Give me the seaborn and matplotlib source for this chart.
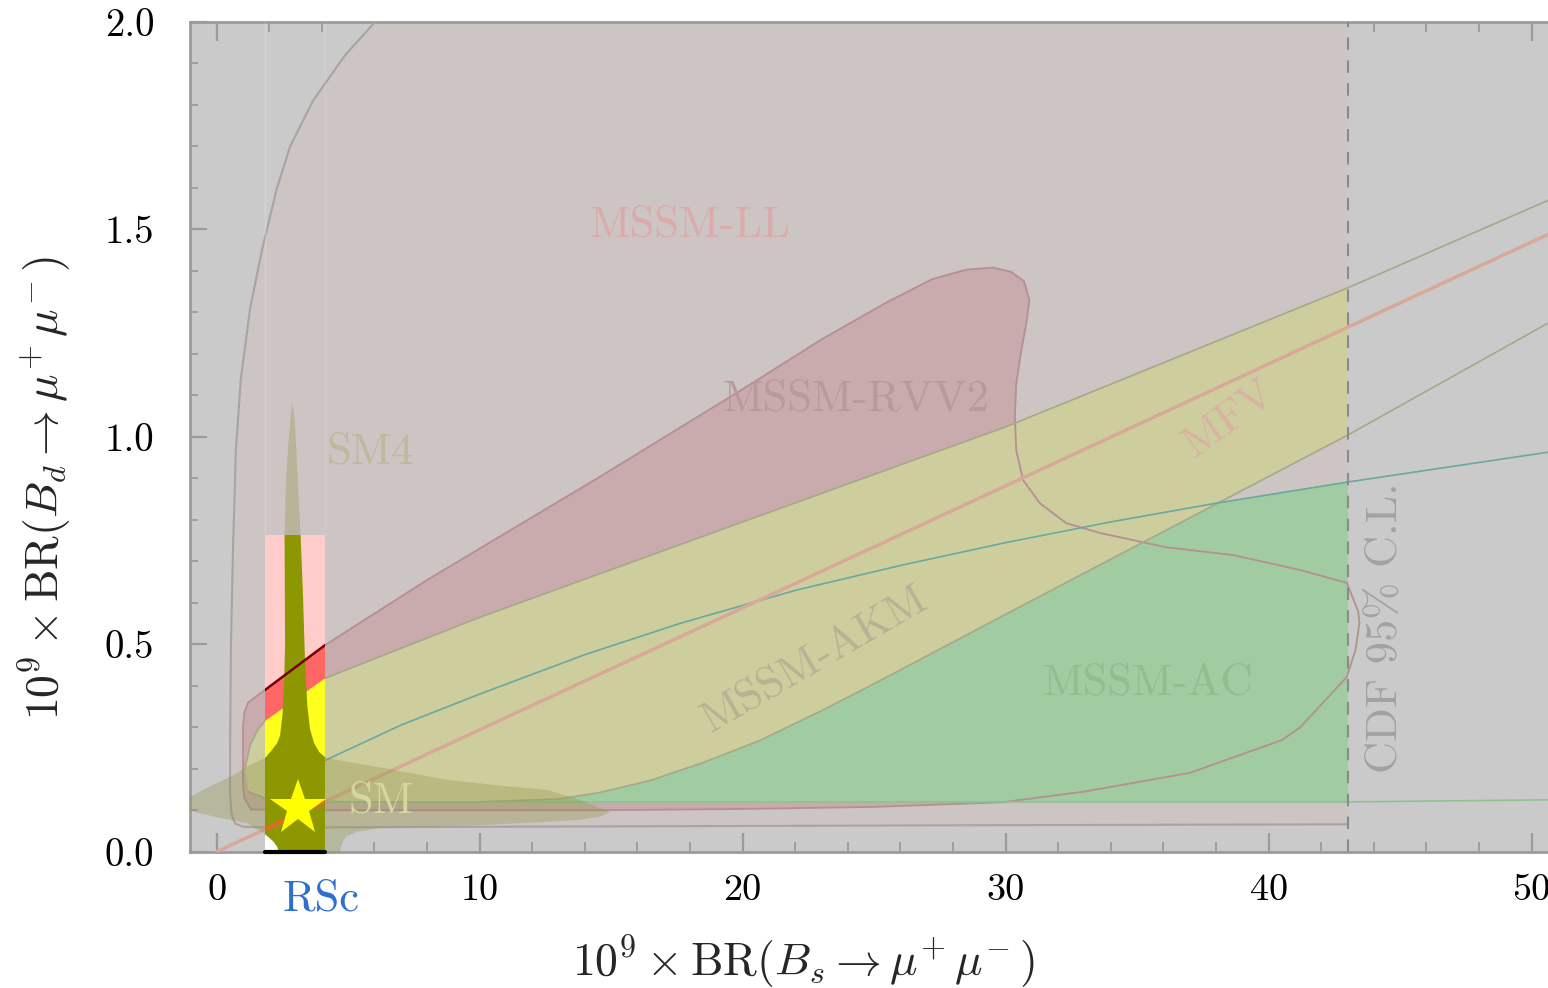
import matplotlib
matplotlib.use("Agg")
import matplotlib.pyplot as plt
from matplotlib.patches import Rectangle
from matplotlib.ticker import MultipleLocator, FixedLocator, FixedFormatter
import matplotlib.transforms as mtransforms
import seaborn as sns

# ---------------- data ----------------
x_limits = (-1.0, 50.62)
y_limits = (0.0, 2.0)
x_major_ticks = [0, 10, 20, 30, 40, 50]
x_tick_labels = ["0", "10", "20", "30", "40", "50"]
y_major_ticks = [0.0, 0.5, 1.0, 1.5, 2.0]
y_tick_labels = ["0.0", "0.5", "1.0", "1.5", "2.0"]

cdf_limit = 43.0
rsc_x0, rsc_x1 = 1.84, 4.12
rsc_top = 0.763
sm_point_x = [3.09]
sm_point_y = [0.105]

# MSSM-LL boundary (left curve + bottom edge)
ll_x = [6.02, 4.88, 3.66, 2.79, 2.29, 1.72, 1.27, 0.92, 0.73, 0.62, 0.54, 0.51, 0.51, 0.56, 0.70, 1.0, 2.0, 10.0, 20.0, 30.0, 43.0]
ll_y = [2.00, 1.92, 1.81, 1.70, 1.60, 1.45, 1.31, 1.14, 0.97, 0.73, 0.49, 0.25, 0.14, 0.09, 0.068, 0.060, 0.058, 0.060, 0.062, 0.064, 0.066]

# MSSM-RVV2 closed boundary
rvv_x = [1.05, 1.00, 1.00, 1.05, 1.20, 1.84, 4.12, 8.0, 14.6, 20.0, 23.0, 25.5, 27.2, 28.5, 29.5, 30.2, 30.7, 30.9,
         30.8, 30.6, 30.4, 30.35, 30.4, 30.66, 31.3, 32.3, 33.6, 36.1, 38.65, 41.2, 42.97, 43.4, 43.45, 43.3, 42.97,
         41.2, 40.5, 37.0, 33.0, 29.86, 25.0, 20.0, 14.6, 8.0, 3.0, 1.3, 1.05]
rvv_y = [0.13, 0.16, 0.30, 0.335, 0.36, 0.39, 0.498, 0.655, 0.905, 1.115, 1.235, 1.325, 1.38, 1.403, 1.408, 1.398, 1.375, 1.33,
         1.28, 1.21, 1.128, 1.048, 0.968, 0.896, 0.84, 0.792, 0.768, 0.734, 0.715, 0.679, 0.648, 0.58, 0.551, 0.486, 0.421,
         0.30, 0.269, 0.19, 0.145, 0.119, 0.108, 0.103, 0.100, 0.100, 0.100, 0.102, 0.13]

# MSSM-AKM band: upper and lower edges
akm_up_x = [1.07, 1.27, 1.57, 1.84, 4.12, 10.0, 20.0, 30.0, 43.0, 50.62]
akm_up_y = [0.20, 0.257, 0.295, 0.315, 0.418, 0.565, 0.795, 1.024, 1.359, 1.57]
akm_lo_x = [1.2, 2.0, 5.0, 10.0, 13.0, 14.6, 16.5, 18.5, 20.65, 23.0, 25.0, 31.04, 43.0, 50.62]
akm_lo_y = [0.145, 0.125, 0.12, 0.12, 0.127, 0.143, 0.172, 0.215, 0.268, 0.34, 0.405, 0.607, 1.004, 1.274]

# MSSM-AC region: upper (teal) and lower edges
ac_up_x = [2.0, 4.12, 7.0, 10.0, 14.0, 17.6, 22.0, 26.0, 30.0, 34.0, 38.0, 43.0, 50.62]
ac_up_y = [0.16, 0.22, 0.305, 0.38, 0.475, 0.55, 0.63, 0.69, 0.745, 0.795, 0.84, 0.891, 0.963]
ac_lo_x = [2.0, 43.0, 50.62]
ac_lo_y = [0.12, 0.12, 0.125]

# SM4 + SM (olive) region
sm_x = [2.87, 2.96, 3.02, 3.08, 3.19, 3.28, 3.36, 3.45, 3.55, 3.70, 3.90, 4.12, 4.58, 6.5, 8.76, 11.0, 12.56,
        13.8, 14.46, 14.96, 14.6, 13.8, 12.0, 10.0, 8.0, 6.2, 5.33, 4.95, 4.8, 4.72, 4.69, 2.4, 2.3, 2.15,
        1.84, 1.15, 0.0, -1.0, -1.12, -1.16, -1.12, -1.0, -0.5, 0.5, 1.3, 1.84, 2.1, 2.3, 2.41, 2.5, 2.56,
        2.6, 2.58, 2.64, 2.72, 2.8, 2.87]
sm_y = [1.081, 1.045, 0.98, 0.90, 0.763, 0.62, 0.455, 0.35, 0.295, 0.262, 0.24, 0.228, 0.221, 0.20, 0.173, 0.158, 0.149,
        0.125, 0.108, 0.096, 0.085, 0.077, 0.070, 0.064, 0.060, 0.057, 0.048, 0.038, 0.025, 0.01, -0.01, -0.01, 0.012, 0.025,
        0.042, 0.069, 0.083, 0.098, 0.10, 0.115, 0.128, 0.132, 0.15, 0.18, 0.21, 0.226, 0.245, 0.262, 0.28, 0.33, 0.40,
        0.50, 0.763, 0.90, 0.98, 1.04, 1.081]

# MFV line end points
mfv_x = [0.0, 50.62]
mfv_y = [0.0, 1.488]

# region labels
label_text = ["MSSM-LL", "MSSM-RVV2", "MFV", "MSSM-AKM", "MSSM-AC", "SM4", "SM", "CDF 95% C.L."]
label_x = [18.0, 24.3, 38.5, 22.74, 35.41, 5.84, 6.26, 44.44]
label_y = [1.51, 1.089, 1.045, 0.464, 0.406, 0.963, 0.12, 0.539]
label_rot = [0, 0, 36, 30, 0, 0, 0, 90]
label_col = ["#dcaaaa", "#b9999b", "#d9b2a4", "#b5b393", "#8fbe8f", "#bcba9a", "#d8d5a0", "#a2a2a2"]

# ---------------- style ----------------
sns.set_theme(style="white")
plt.rcParams['font.family'] = ['cmr10', 'DejaVu Serif']
plt.rcParams['mathtext.fontset'] = 'cm'
plt.rcParams['axes.formatter.use_mathtext'] = True
plt.rcParams['axes.unicode_minus'] = False

W, H = 1548, 988
fig = plt.figure(figsize=(W / 100, H / 100), dpi=100)
fig.patch.set_facecolor("white")
ax = fig.add_axes([190.4 / W, (H - 851.7) / H, 1 - 190.4 / W, (851.7 - 22) / H])
ax.set_facecolor("#cacaca")
ax.set_xlim(*x_limits)
ax.set_ylim(*y_limits)

clip_cdf = Rectangle((x_limits[0], y_limits[0]), cdf_limit - x_limits[0], y_limits[1] - y_limits[0],
                     transform=ax.transData)
clip_band = Rectangle((rsc_x0, y_limits[0]), rsc_x1 - rsc_x0, rsc_top, transform=ax.transData)


def fill(xs, ys, color, z, clip=None, alpha=1.0):
    patches = ax.fill(xs, ys, color=color, lw=0, zorder=z, alpha=alpha)
    if clip is not None:
        for p in patches:
            p.set_clip_path(clip)
    return patches


def line(xs, ys, color, lw, z, clip=None, **kw):
    sns.lineplot(x=xs, y=ys, sort=False, estimator=None, ax=ax, color=color,
                 linewidth=lw, zorder=z, legend=False, **kw)
    ln = ax.lines[-1]
    if clip is not None:
        ln.set_clip_path(clip)
    return ln


ll_poly_x = ll_x + [cdf_limit, cdf_limit]
ll_poly_y = ll_y + [y_limits[1], y_limits[1]]
akm_poly_x = akm_up_x + akm_lo_x[::-1]
akm_poly_y = akm_up_y + akm_lo_y[::-1]
ac_poly_x = ac_up_x + ac_lo_x[::-1]
ac_poly_y = ac_up_y + ac_lo_y[::-1]

# ----- translucent-looking global regions -----
fill(ll_poly_x, ll_poly_y, "#cdc4c4", 1, clip_cdf)
fill(rvv_x, rvv_y, "#c9abad", 2, clip_cdf)
fill(ac_poly_x, ac_poly_y, "#a1cba1", 3, clip_cdf)
fill(akm_poly_x, akm_poly_y, "#cecd9e", 4, clip_cdf)

line(ll_x, ll_y, "#a9a3a3", 1.5, 5)
line(rvv_x, rvv_y, "#b48f94", 1.3, 5)
line(akm_up_x, akm_up_y, "#a6a88a", 1.2, 5)
line(akm_lo_x, akm_lo_y, "#a6a88a", 1.2, 5)
line(ac_up_x, ac_up_y, "#6aa8a0", 1.2, 5)
line(ac_lo_x, ac_lo_y, "#8cc48c", 1.2, 5)
line(mfv_x, mfv_y, "#d8a898", 2.5, 5)

fill(sm_x, sm_y, "#8c9640", 6, alpha=0.33)

# faint band edges above the coloured box
ax.axvline(rsc_x0, ymin=rsc_top / 2.0, color="white", lw=1.0, alpha=0.22, zorder=6.5)
ax.axvline(rsc_x1, ymin=rsc_top / 2.0, color="white", lw=1.0, alpha=0.1, zorder=6.5)

# ----- RSc band: opaque saturated copies -----
ax.add_patch(Rectangle((rsc_x0, 0), rsc_x1 - rsc_x0, rsc_top, facecolor="white", lw=0, zorder=7))
fill(ll_poly_x, ll_poly_y, "#ffcccc", 8, clip_band)
fill(rvv_x, rvv_y, "#ff6666", 8.1, clip_band)
fill(akm_poly_x, akm_poly_y, "#ffff1e", 8.2, clip_band)
fill(sm_x, sm_y, "#8d9700", 8.3, clip_band)
line(rvv_x[4:8], rvv_y[4:8], "#7a0000", 1.8, 8.4, clip_band)
line(mfv_x, mfv_y, "#e2682c", 2.8, 8.5, clip_band)
ax.plot(sm_point_x, sm_point_y, marker="*", markersize=42, color="#ffff00",
        markeredgewidth=0, linestyle="none", zorder=9)
ax.plot([rsc_x0, rsc_x1], [0, 0], color="black", lw=3, zorder=9, clip_on=False)

# CDF limit
ax.axvline(cdf_limit, color="#8a8a8a", lw=1.5, ls=(0, (6, 5)), zorder=7)

# region labels
for t, x, y, r, c in zip(label_text, label_x, label_y, label_rot, label_col):
    ax.text(x, y, t, color=c, fontsize=32, rotation=r, rotation_mode="anchor",
            ha="center", va="center", zorder=10)

# ----- axes styling -----
for s in ["left", "bottom", "top"]:
    ax.spines[s].set_color("#9b9b9b")
    ax.spines[s].set_linewidth(2)
ax.spines["right"].set_visible(False)

ax.xaxis.set_major_locator(FixedLocator(x_major_ticks))
ax.xaxis.set_major_formatter(FixedFormatter(x_tick_labels))
ax.xaxis.set_minor_locator(MultipleLocator(2))
ax.yaxis.set_major_locator(FixedLocator(y_major_ticks))
ax.yaxis.set_major_formatter(FixedFormatter(y_tick_labels))
ax.yaxis.set_minor_locator(MultipleLocator(0.1))

ax.tick_params(axis="x", which="major", direction="in", length=14, width=1.6, color="#9b9b9b",
               labelsize=27.5, pad=16, top=True, bottom=True, labelcolor="black")
ax.tick_params(axis="x", which="minor", direction="in", length=7, width=1.3, color="#9b9b9b",
               top=True, bottom=True)
ax.tick_params(axis="y", which="major", direction="in", length=12, width=1.6, color="#9b9b9b",
               labelsize=28, pad=26, left=True, right=False, labelcolor="black")
ax.tick_params(axis="y", which="minor", direction="in", length=6, width=1.3, color="#9b9b9b",
               left=True, right=False)

for tk in ax.xaxis.get_minor_ticks():
    if rsc_x0 < tk.get_loc() < rsc_x1:
        tk.tick1line.set_color("black")
        tk.tick1line.set_zorder(10)

trans = mtransforms.blended_transform_factory(ax.transData, ax.transAxes)
ax.text(3.98, -0.058, "RSc", transform=trans, color="#2f6fd0", fontsize=32,
        ha="center", va="center", clip_on=False)

fig.text(803 / W, 1 - 962 / H, r"$10^9 \times \mathrm{BR}(B_s \to \mu^{\!+}\mu^{\!-})$",
         fontsize=33, ha="center", va="center")
fig.text(45 / W, 1 - 488 / H, r"$10^9 \times \mathrm{BR}(B_d \to \mu^{\!+}\mu^{\!-})$",
         fontsize=33, ha="center", va="center", rotation=90)

fig.savefig("out.png", dpi=100)
